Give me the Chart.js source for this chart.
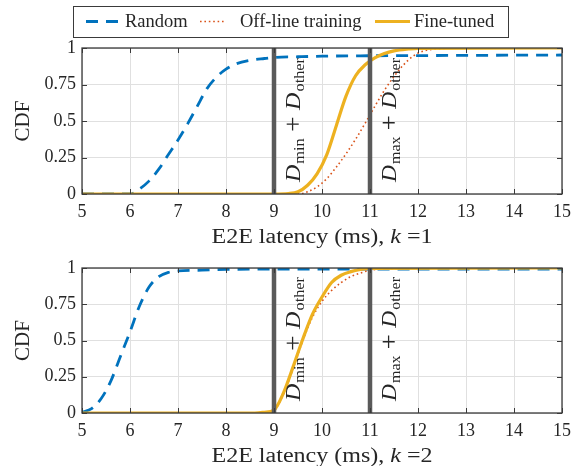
<!DOCTYPE html>
<html>
<head>
<meta charset="utf-8">
<script src="https://cdn.jsdelivr.net/npm/chart.js@4/dist/chart.umd.min.js"></script>
<style>
  html, body { margin: 0; padding: 0; background: #fff; }
  #wrap { position: relative; width: 579px; height: 466px; background: #fff; }
  canvas { position: absolute; left: 0; }
</style>
</head>
<body>
<div id="wrap">
  <canvas id="c1" width="579" height="250" style="top:0"></canvas>
  <canvas id="c2" width="579" height="216" style="top:250px"></canvas>
</div>
<script>
// ---------- data ----------
const seriesNames = ['Random', 'Off-line training', 'Fine-tuned'];
const xTicks = [5, 6, 7, 8, 9, 10, 11, 12, 13, 14, 15];
const yTickLabels = ['0', '0.25', '0.5', '0.75', '1'];
const boundX = [9, 11];           // D_min + D_other, D_max + D_other
const boundSub = ['min', 'max'];

// k = 1
const randX1 = [5, 6, 6.2, 6.4, 6.6, 6.8, 7, 7.2, 7.4, 7.6, 7.8, 8, 8.2, 8.5, 8.8, 9, 9.5, 10, 12, 15];
const randY1 = [0, 0, 0.035, 0.09, 0.17, 0.27, 0.37, 0.48, 0.6, 0.72, 0.8, 0.855, 0.89, 0.915, 0.928, 0.935, 0.94, 0.944, 0.948, 0.952];
const offX1 = [5, 9.5, 9.7, 9.9, 10.1, 10.3, 10.5, 10.7, 10.9, 11.1, 11.3, 11.5, 11.7, 11.9, 12.1, 12.4, 13, 15];
const offY1 = [0, 0, 0.015, 0.05, 0.105, 0.185, 0.275, 0.375, 0.485, 0.6, 0.71, 0.805, 0.885, 0.945, 0.978, 0.994, 1, 1];
const fineX1 = [5, 9, 9.3, 9.5, 9.7, 9.9, 10.1, 10.3, 10.5, 10.7, 10.9, 11.1, 11.3, 11.5, 11.8, 12, 15];
const fineY1 = [0, 0, 0.003, 0.015, 0.06, 0.14, 0.27, 0.47, 0.67, 0.81, 0.885, 0.932, 0.962, 0.98, 0.993, 0.998, 1];

// k = 2
const randX2 = [5, 5.2, 5.4, 5.6, 5.8, 6, 6.2, 6.4, 6.6, 6.8, 7, 7.5, 8, 9, 15];
const randY2 = [0.005, 0.03, 0.1, 0.22, 0.39, 0.56, 0.74, 0.87, 0.94, 0.97, 0.98, 0.985, 0.99, 0.993, 0.993];
const offX2 = [5, 8.6, 8.8, 9, 9.2, 9.4, 9.6, 9.8, 10, 10.2, 10.4, 10.6, 10.8, 11, 11.5, 15];
const offY2 = [0, 0, 0.005, 0.02, 0.13, 0.31, 0.5, 0.66, 0.77, 0.845, 0.9, 0.94, 0.965, 0.985, 0.997, 1];
const fineX2 = [5, 8.6, 8.8, 9, 9.2, 9.4, 9.6, 9.8, 10, 10.2, 10.4, 10.6, 10.8, 11, 15];
const fineY2 = [0, 0, 0.005, 0.02, 0.14, 0.32, 0.51, 0.68, 0.8, 0.9, 0.95, 0.975, 0.99, 0.997, 1];

// ---------- styling ----------
const COL_BLUE = '#0072BD', COL_RED = '#D95319', COL_ORANGE = '#EDB120';
const COL_VLINE = '#5a5a5a', COL_AX = '#3a3a3a', COL_GRID = '#e0e0e0', COL_TXT = '#262626';
const SERIF = "'Liberation Serif', 'Times New Roman', serif";
Chart.defaults.font.family = SERIF;
Chart.defaults.color = COL_TXT;

const pts = (xs, ys) => xs.map((x, i) => ({ x: x, y: ys[i] }));
const styles = [
  { borderColor: COL_BLUE, borderWidth: 2.8, borderDash: [12, 8] },
  { borderColor: COL_RED, borderWidth: 1.6, borderDash: [1.6, 2.8] },
  { borderColor: COL_ORANGE, borderWidth: 3.2, borderDash: [] }
];

function setText(ctx, size, italic) {
  ctx.font = (italic ? 'italic ' : '') + size + 'px ' + SERIF;
}

// draws a sequence of [text, size, italic, dy, extraGap] parts from (0,0), scaled to a target length
function drawParts(ctx, parts, targetLen, align) {
  let total = 0;
  const widths = parts.map(p => { setText(ctx, p[1], p[2]); const w = ctx.measureText(p[0]).width + (p[4] || 0); total += w; return w; });
  const s = targetLen ? targetLen / total : 1;
  ctx.save();
  if (align === 'center') ctx.translate(-total * s / 2, 0);
  ctx.scale(s, 1);
  let cx = 0;
  parts.forEach((p, i) => {
    setText(ctx, p[1], p[2]);
    ctx.fillText(p[0], cx, p[3] || 0);
    cx += widths[i];
  });
  ctx.restore();
}

function decoPlugin(k, withLegend) {
  return {
    id: 'deco' + k,
    afterDatasetsDraw(chart) {
      const ctx = chart.ctx, a = chart.chartArea, x = chart.scales.x, y = chart.scales.y;
      ctx.save();
      // inner tick marks
      ctx.strokeStyle = COL_AX; ctx.lineWidth = 1;
      ctx.beginPath();
      xTicks.forEach(v => {
        const px = Math.round(x.getPixelForValue(v)) + 0.5;
        ctx.moveTo(px, a.bottom); ctx.lineTo(px, a.bottom - 5);
        ctx.moveTo(px, a.top); ctx.lineTo(px, a.top + 5);
      });
      yTickLabels.forEach((t, i) => {
        const py = Math.round(y.getPixelForValue(i * 0.25)) + 0.5;
        ctx.moveTo(a.left, py); ctx.lineTo(a.left + 5, py);
        ctx.moveTo(a.right, py); ctx.lineTo(a.right - 5, py);
      });
      ctx.stroke();
      // frame
      ctx.lineWidth = 1.3;
      ctx.strokeRect(a.left, a.top, a.right - a.left, a.bottom - a.top);
      // D labels
      ctx.fillStyle = COL_TXT;
      ctx.textBaseline = 'alphabetic';
      ctx.textAlign = 'left';
      boundX.forEach((bx, i) => {
        ctx.save();
        ctx.translate(x.getPixelForValue(bx) + 26, a.bottom - 12);
        ctx.rotate(-Math.PI / 2);
        drawParts(ctx, [
          ['D', 22, true, 0, 1],
          [boundSub[i], 15, false, 4, 6],
          ['+', 25, false, 1, 6],
          ['D', 22, true, 0, 1],
          ['other', 15, false, 4]
        ], 124, 'left');
        ctx.restore();
      });
      ctx.restore();
    },
    afterDraw(chart) {
      const ctx = chart.ctx, a = chart.chartArea;
      ctx.save();
      ctx.fillStyle = COL_TXT;
      ctx.textBaseline = 'alphabetic';
      ctx.textAlign = 'left';
      // x title
      ctx.save();
      ctx.translate((a.left + a.right) / 2, a.bottom + 49);
      drawParts(ctx, [
        ['E2E latency (ms), ', 20.5, false],
        ['k', 20.5, true],
        [' =' + k, 20.5, false]
      ], 221, 'center');
      ctx.restore();
      // y title
      ctx.save();
      ctx.translate(29, (a.top + a.bottom) / 2);
      ctx.rotate(-Math.PI / 2);
      ctx.textAlign = 'center';
      setText(ctx, 21, false);
      ctx.fillText('CDF', 0, 0);
      ctx.restore();
      // legend
      if (withLegend) {
        ctx.fillStyle = '#fff';
        ctx.fillRect(73.5, 6.5, 435, 31);
        ctx.strokeStyle = COL_AX; ctx.lineWidth = 1;
        ctx.strokeRect(73.5, 6.5, 435, 31);
        const items = [
          { x0: 86, x1: 120, tx: 125 },
          { x0: 200, x1: 226, tx: 240 },
          { x0: 375, x1: 410, tx: 414 }
        ];
        const ly = 21.5;
        items.forEach((it, i) => {
          const st = styles[i];
          ctx.save();
          ctx.strokeStyle = st.borderColor;
          ctx.lineWidth = st.borderWidth;
          ctx.setLineDash(st.borderDash);
          ctx.beginPath(); ctx.moveTo(it.x0, ly); ctx.lineTo(it.x1, ly); ctx.stroke();
          ctx.restore();
          ctx.fillStyle = COL_TXT;
          setText(ctx, 18.5, false);
          ctx.textBaseline = 'middle';
          ctx.fillText(seriesNames[i], it.tx, ly + 1);
        });
      }
      ctx.restore();
    }
  };
}

function makeChart(id, k, data, padTop, xHeight, withLegend) {
  const vlines = boundX.map(bx => ({
    data: [{ x: bx, y: 0 }, { x: bx, y: 1 }],
    borderColor: COL_VLINE, borderWidth: 4.5, pointRadius: 0, fill: false
  }));
  const series = data.map((d, i) => Object.assign({
    label: seriesNames[i],
    data: pts(d[0], d[1]),
    pointRadius: 0, fill: false, cubicInterpolationMode: 'monotone'
  }, styles[i]));
  // first dataset is drawn on top in Chart.js
  const datasets = vlines.concat([series[2], series[1], series[0]]);
  return new Chart(document.getElementById(id), {
    type: 'line',
    data: { datasets: datasets },
    options: {
      responsive: false, animation: false, devicePixelRatio: 1,
      layout: { padding: { top: padTop, right: 17, left: 0, bottom: 0 } },
      plugins: { legend: { display: false }, tooltip: { enabled: false } },
      scales: {
        x: {
          type: 'linear', min: 5, max: 15,
          afterFit: s => { s.height = xHeight; },
          afterBuildTicks: s => { s.ticks = xTicks.map(v => ({ value: v })); },
          ticks: { font: { size: 18 }, color: COL_TXT, padding: 7, maxRotation: 0, callback: v => String(v) },
          grid: { color: COL_GRID, drawTicks: false },
          border: { display: false }
        },
        y: {
          type: 'linear', min: 0, max: 1,
          afterFit: s => { s.width = 82; },
          afterBuildTicks: s => { s.ticks = yTickLabels.map((t, i) => ({ value: i * 0.25 })); },
          ticks: { font: { size: 18 }, color: COL_TXT, padding: 6, callback: (v, i) => yTickLabels[Math.round(v * 4)] },
          grid: { color: COL_GRID, drawTicks: false },
          border: { display: false }
        }
      }
    },
    plugins: [decoPlugin(k, withLegend)]
  });
}

makeChart('c1', 1, [[randX1, randY1], [offX1, offY1], [fineX1, fineY1]], 48, 56, true);
makeChart('c2', 2, [[randX2, randY2], [offX2, offY2], [fineX2, fineY2]], 18, 53, false);
</script>
</body>
</html>
